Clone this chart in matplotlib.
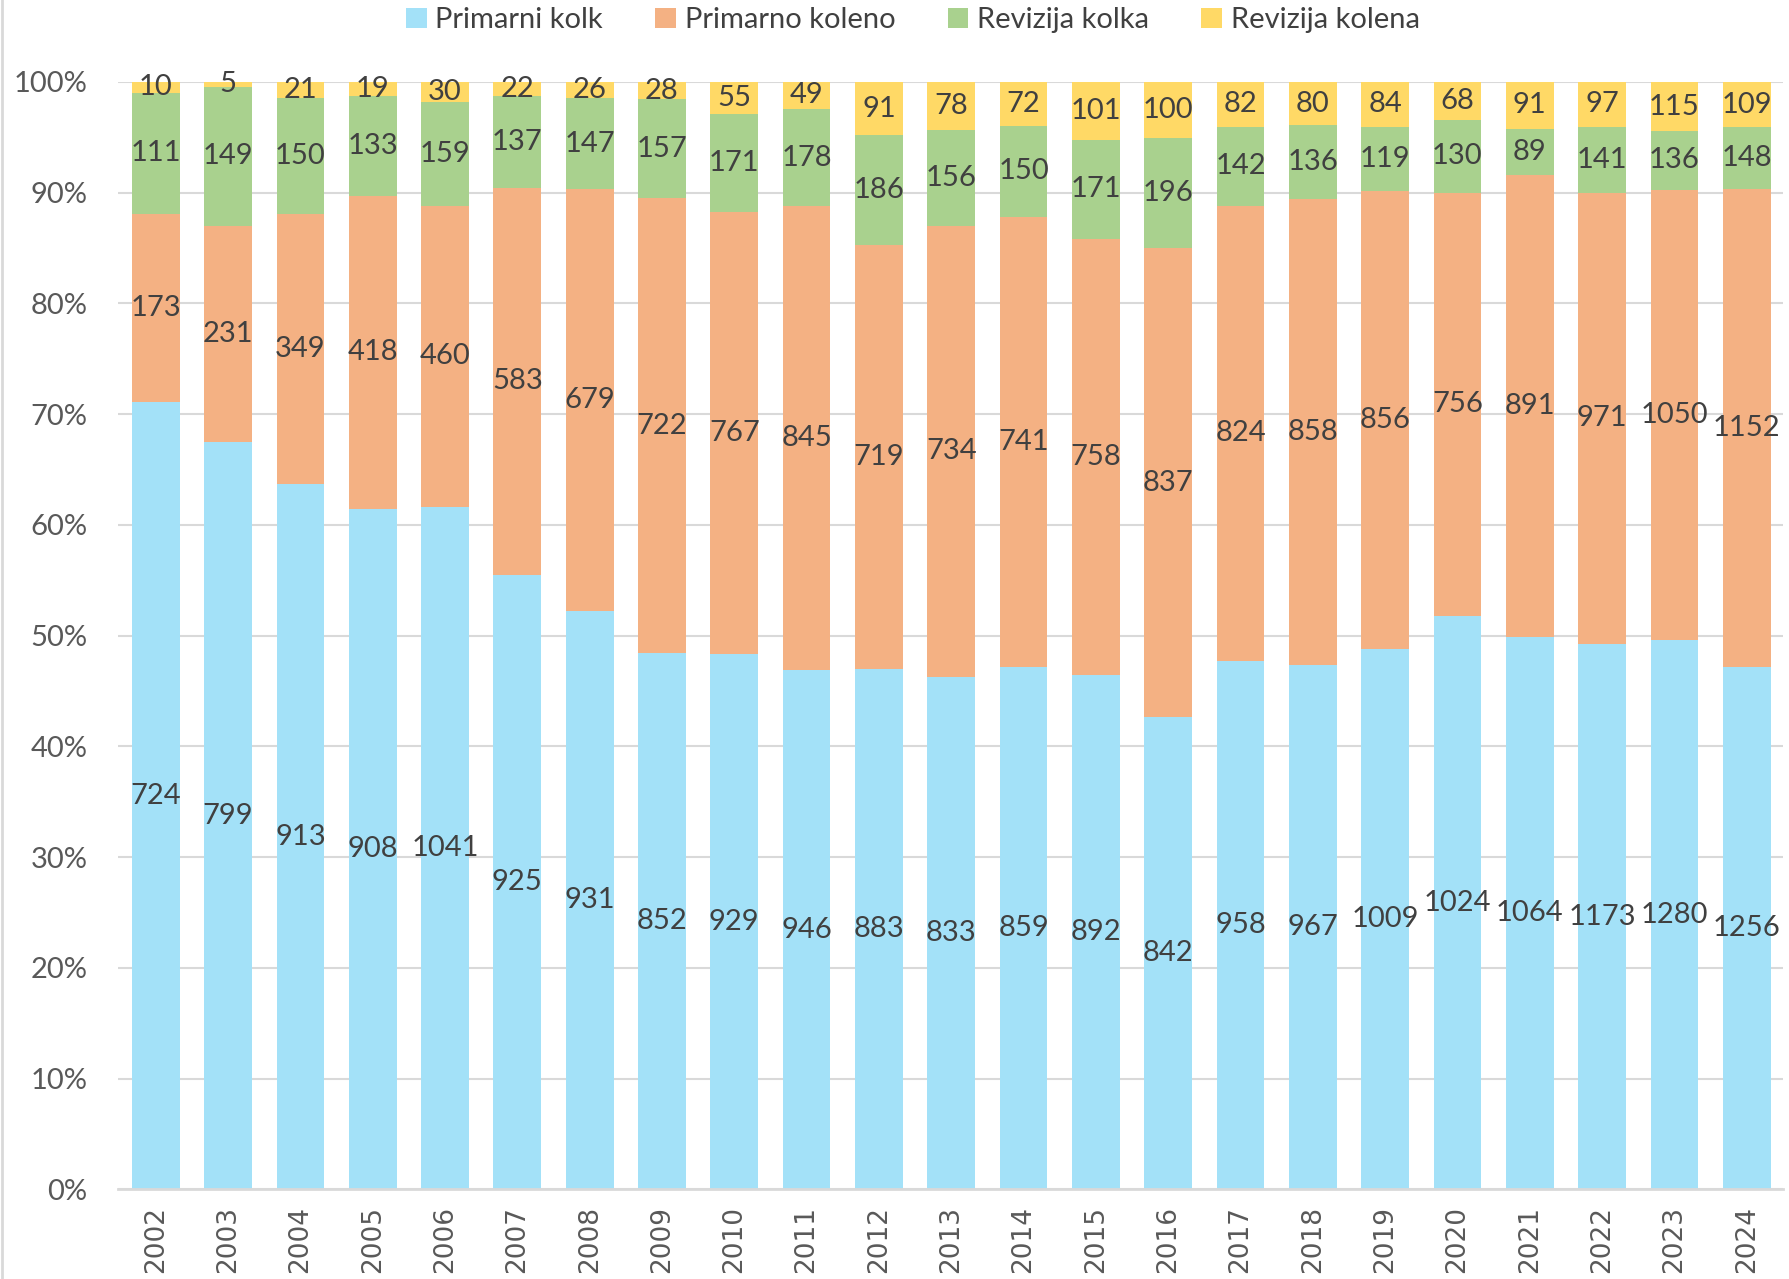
import matplotlib.pyplot as plt
import numpy as np
from matplotlib.ticker import PercentFormatter

YEARS = [str(y) for y in range(2002, 2025)]
PRIMARNI_KOLK = [724, 799, 913, 908, 1041, 925, 931, 852, 929, 946, 883, 833,
                 859, 892, 842, 958, 967, 1009, 1024, 1064, 1173, 1280, 1256]
PRIMARNO_KOLENO = [173, 231, 349, 418, 460, 583, 679, 722, 767, 845, 719, 734,
                   741, 758, 837, 824, 858, 856, 756, 891, 971, 1050, 1152]
REVIZIJA_KOLKA = [111, 149, 150, 133, 159, 137, 147, 157, 171, 178, 186, 156,
                  150, 171, 196, 142, 136, 119, 130, 89, 141, 136, 148]
REVIZIJA_KOLENA = [10, 5, 21, 19, 30, 22, 26, 28, 55, 49, 91, 78,
                   72, 101, 100, 82, 80, 84, 68, 91, 97, 115, 109]

SERIES = [
    ("Primarni kolk", PRIMARNI_KOLK, "#A3E1F8"),
    ("Primarno koleno", PRIMARNO_KOLENO, "#F4B183"),
    ("Revizija kolka", REVIZIJA_KOLKA, "#A9D18E"),
    ("Revizija kolena", REVIZIJA_KOLENA, "#FFD966"),
]

LABEL_FONT = ["Lato", "DejaVu Sans"]
TEXT_COLOR = "#404040"


def main():
    fig = plt.figure(figsize=(17.9, 12.79), dpi=100)
    ax = fig.add_axes([0.066, 0.070, 0.93, 0.866])

    x = np.arange(len(YEARS))
    totals = np.sum([np.array(s[1]) for s in SERIES], axis=0)
    bottom = np.zeros(len(YEARS))

    for name, values, color in SERIES:
        vals = np.array(values)
        share = vals / totals
        ax.bar(x, share, 0.66, bottom=bottom, color=color, label=name, zorder=2)
        # value labels centred in each segment
        for xi, b, s, v in zip(x, bottom, share, vals):
            ax.text(xi, b + s / 2, str(v), ha="center", va="center",
                    fontsize=21, color=TEXT_COLOR, family=LABEL_FONT, zorder=3)
        bottom += share

    ax.set_xlim(-0.52, 22.5)
    ax.set_ylim(0, 1)
    ax.set_yticks(np.linspace(0, 1, 11))
    ax.yaxis.set_major_formatter(PercentFormatter(1.0, decimals=0))
    ax.set_xticks(x)
    ax.set_xticklabels(YEARS, rotation=90, fontsize=19, color="#595959",
                       family="DejaVu Sans")
    for lbl in ax.get_yticklabels():
        lbl.set_fontsize(21)
        lbl.set_color("#595959")
        lbl.set_family(LABEL_FONT)

    ax.grid(axis="y", color="#D9D9D9", linewidth=1.5, zorder=0)
    ax.tick_params(axis="y", length=0, pad=22)
    ax.tick_params(axis="x", length=0, pad=12)
    for side in ["top", "right", "left"]:
        ax.spines[side].set_visible(False)
    ax.spines["bottom"].set_color("#D9D9D9")
    ax.spines["bottom"].set_linewidth(2)

    fig.legend(*ax.get_legend_handles_labels(), loc="center",
               bbox_to_anchor=(0.51, 0.984), ncol=4,
               frameon=False, handlelength=0.7, handleheight=0.7,
               handletextpad=0.3, columnspacing=1.8,
               prop={"family": LABEL_FONT, "size": 21}, labelcolor=TEXT_COLOR)

    # chart border on the left
    fig.add_artist(plt.Line2D([0.001, 0.001], [0, 1], color="#D9D9D9", lw=2))

    fig.savefig("out.png", dpi=100)


if __name__ == "__main__":
    main()
